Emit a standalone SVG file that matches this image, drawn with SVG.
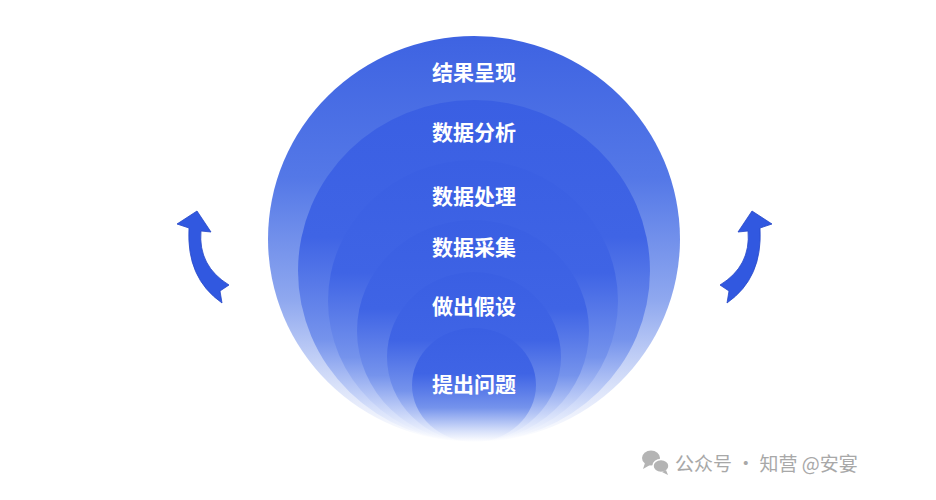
<svg xmlns="http://www.w3.org/2000/svg" width="936" height="500" viewBox="0 0 936 500">
<defs>
<linearGradient id="g" x1="0" y1="0" x2="0" y2="1">
<stop offset="0" stop-color="#3a5fe3"/>
<stop offset="0.4" stop-color="#3f64e5"/>
<stop offset="0.7" stop-color="#7593ec"/>
<stop offset="0.9" stop-color="#d5dffa"/>
<stop offset="1" stop-color="#ffffff"/>
</linearGradient>
<linearGradient id="g0" x1="0" y1="0" x2="0" y2="1">
<stop offset="0" stop-color="#3e63e2"/>
<stop offset="0.35" stop-color="#5478e7"/>
<stop offset="0.65" stop-color="#8fa8ef"/>
<stop offset="0.88" stop-color="#dfe6fa"/>
<stop offset="1" stop-color="#ffffff"/>
</linearGradient>
<style>
.lbl{font-family:"Noto Sans CJK SC","Noto Sans",sans-serif;font-size:21px;font-weight:700;fill:#ffffff;text-anchor:middle}
.arr{fill:#3158e0;stroke:#2446c8;stroke-width:0.8}
.wm{font-family:"Noto Sans CJK SC","Noto Sans",sans-serif;font-size:19px;fill:#a8a8a8}
</style>
</defs>
<rect width="936" height="500" fill="#ffffff"/>
<g id="n1"><ellipse cx="474" cy="239" rx="206" ry="203" fill="url(#g0)"/><text class="lbl" x="474" y="80">结果呈现</text></g>
<g id="n2"><ellipse cx="474" cy="271" rx="176" ry="171" fill="url(#g)"/><text class="lbl" x="474" y="140">数据分析</text></g>
<g id="n3"><ellipse cx="473" cy="301" rx="145" ry="141" fill="url(#g)"/><text class="lbl" x="474" y="204">数据处理</text></g>
<g id="n4"><ellipse cx="473" cy="331" rx="116" ry="111" fill="url(#g)"/><text class="lbl" x="474" y="255">数据采集</text></g>
<g id="n5"><ellipse cx="474" cy="357" rx="87" ry="85" fill="url(#g)"/><text class="lbl" x="474" y="314">做出假设</text></g>
<g id="n6"><ellipse cx="474" cy="385" rx="62" ry="57" fill="url(#g)"/><text class="lbl" x="474" y="392">提出问题</text></g>
<g id="connectors">
<path id="arrL" class="arr" d="M197,211 L211,232 L201,231 Q198,266 229,285 L220,291 L222,303 Q186,278 189,228 L177,224 Z"/>
<use href="#arrL" transform="translate(949,0) scale(-1,1)"/>
</g>
<g id="watermark">
<ellipse cx="651" cy="458" rx="9" ry="7.5" fill="#b4b4b4"/>
<path d="M645,463 L643,469 L650,465 Z" fill="#b4b4b4"/>
<ellipse cx="661" cy="466" rx="8" ry="6.5" fill="#b4b4b4" stroke="#ffffff" stroke-width="1.5"/>
<path d="M666,470 L668,475 L662,472 Z" fill="#b4b4b4"/>
<text class="wm" x="675" y="471">公众号 · 知营 @安宴</text>
</g>
</svg>
